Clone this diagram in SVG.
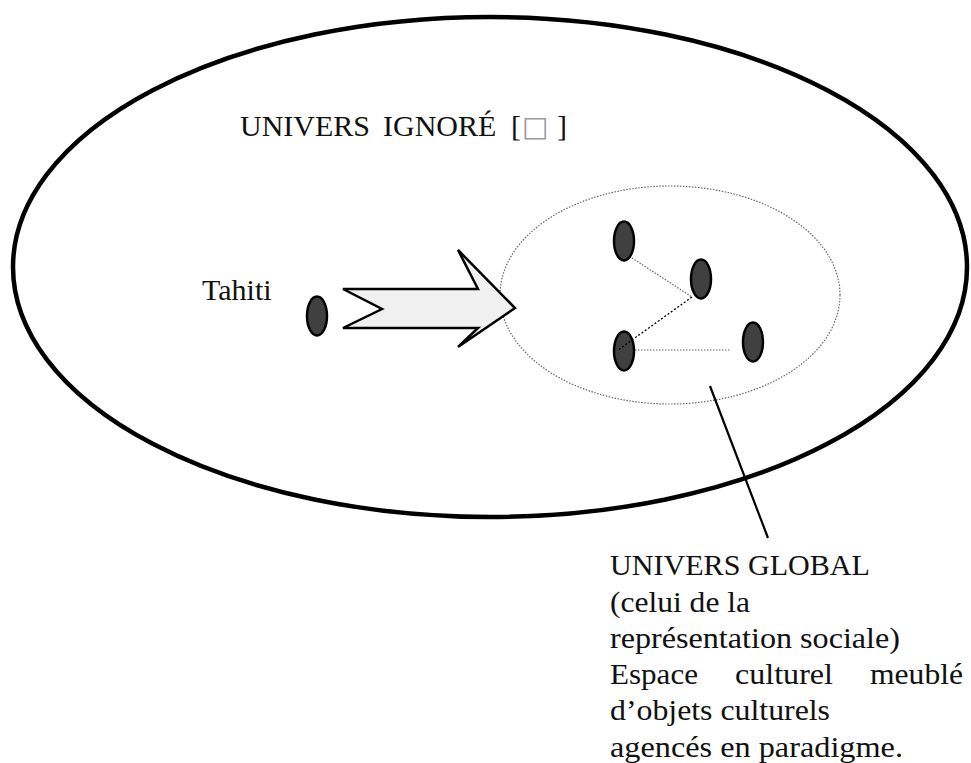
<svg xmlns="http://www.w3.org/2000/svg" width="971" height="763" viewBox="0 0 971 763">
<style>
.t{font-family:"Liberation Serif","Times New Roman",serif;font-size:30px;fill:#111}
.node{fill:#404040;stroke:#000;stroke-width:2.5}
.dot{fill:none;stroke:#666;stroke-width:1.2;stroke-dasharray:1.5 1.5}
</style>
<rect width="971" height="763" fill="#fff"/>
<g id="univers-ignore">
<ellipse cx="490" cy="267" rx="477" ry="250" fill="none" stroke="#000" stroke-width="4.5"/>
<text class="t" y="136"><tspan x="240">UNIVERS</tspan><tspan x="383">IGNORÉ</tspan><tspan x="511">[</tspan><tspan x="522" style="font-family:'DejaVu Sans',sans-serif;fill:#999;font-size:28px">□</tspan><tspan x="557">]</tspan></text>
</g>
<g id="univers-global">
<ellipse class="dot" cx="670" cy="295" rx="170" ry="109"/>
</g>
<g id="tahiti">
<text class="t" x="202" y="300">Tahiti</text>
<ellipse class="node" cx="317" cy="316" rx="10" ry="19.5"/>
</g>
<g id="arrow">
<polygon points="343,289 478,289 458,250 515,308 458,347 478,328 343,328 382,309" fill="#f0f0f0" stroke="#000" stroke-width="2.5" stroke-linejoin="miter"/>
</g>
<g id="obj1"><ellipse class="node" cx="624" cy="241" rx="10" ry="19.5"/></g>
<g id="obj2"><ellipse class="node" cx="701" cy="279" rx="10" ry="19.5"/></g>
<g id="obj3"><ellipse class="node" cx="624" cy="351" rx="10" ry="19.5"/></g>
<g id="obj4"><ellipse class="node" cx="753" cy="342" rx="10" ry="19.5"/></g>
<g id="connectors">
<line class="dot" x1="632" y1="258" x2="692" y2="297"/>
<line x1="692" y1="297" x2="618" y2="350" stroke="#000" stroke-width="1.3" stroke-dasharray="2 2"/>
<line class="dot" x1="635" y1="350" x2="730" y2="350"/>
<line x1="710" y1="386" x2="768" y2="538" stroke="#000" stroke-width="2.2"/>
</g>
<g id="label-global">
<text class="t" x="610" y="575" textLength="260" lengthAdjust="spacingAndGlyphs">UNIVERS GLOBAL</text>
<text class="t" x="610" y="612" textLength="140" lengthAdjust="spacingAndGlyphs">(celui de la</text>
<text class="t" x="610" y="648" textLength="290" lengthAdjust="spacingAndGlyphs">représentation sociale)</text>
<text class="t" y="684"><tspan x="610" textLength="88" lengthAdjust="spacingAndGlyphs">Espace</tspan><tspan x="735" textLength="98" lengthAdjust="spacingAndGlyphs">culturel</tspan><tspan x="870" textLength="93" lengthAdjust="spacingAndGlyphs">meublé</tspan></text>
<text class="t" x="610" y="720" textLength="220" lengthAdjust="spacingAndGlyphs">d’objets culturels</text>
<text class="t" x="610" y="757" textLength="293" lengthAdjust="spacingAndGlyphs">agencés en paradigme.</text>
</g>
</svg>
